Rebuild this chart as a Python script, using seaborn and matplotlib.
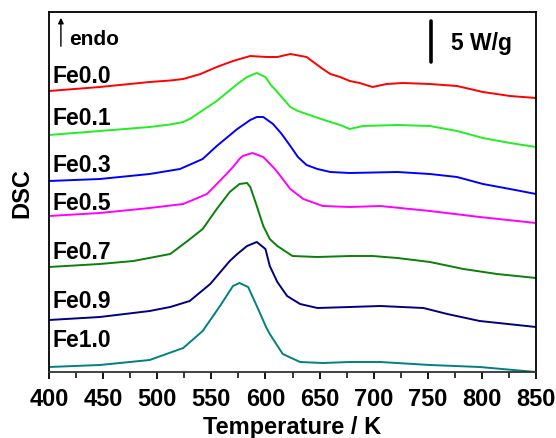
import matplotlib
matplotlib.use("Agg")
import matplotlib.pyplot as plt
import seaborn as sns
from matplotlib.ticker import MultipleLocator

sns.set_theme(style="ticks")
plt.rcParams['font.family'] = ['Liberation Sans', 'DejaVu Sans']
plt.rcParams['font.weight'] = 'bold'
plt.rcParams['text.color'] = 'black'
plt.rcParams['axes.labelcolor'] = 'black'
plt.rcParams['xtick.color'] = 'black'
plt.rcParams['ytick.color'] = 'black'

# ---- data (temperature in K, DSC signal in arbitrary offset units) ----
samples = ["Fe0.0", "Fe0.1", "Fe0.3", "Fe0.5", "Fe0.7", "Fe0.9", "Fe1.0"]
colors = ["#ff0000", "#22ee22", "#0000ff", "#ff00ff", "#0a800a", "#000080", "#008080"]
label_y = [290, 248, 201, 163, 114, 65, 26]

T_fe00 = [400, 447, 493, 512, 524, 540, 555, 570, 586, 601, 611, 623, 638, 653, 660, 669, 678, 687, 699, 712, 727, 752, 777, 801, 826, 850]
Y_fe00 = [281, 285, 290, 291.5, 293, 298, 305, 311, 316, 315, 315, 318, 315, 303, 298, 295, 291, 289, 285, 288, 289, 288, 286, 280, 276, 274]

T_fe01 = [400, 447, 493, 512, 524, 530, 555, 574, 583, 592, 600, 605, 611, 623, 630, 638, 657, 669, 678, 690, 722, 752, 777, 801, 826, 850]
Y_fe01 = [237, 241, 245, 247.5, 250, 253, 271, 288, 295, 299, 295, 287, 280, 265, 261, 258, 251, 247, 243, 246, 247, 246, 241, 234, 229, 225]

T_fe03 = [400, 447, 493, 521, 542, 555, 574, 586, 592, 598, 607, 615, 623, 630, 638, 648, 660, 678, 722, 752, 777, 801, 826, 850]
Y_fe03 = [191, 193, 198, 203, 213, 226, 243, 252, 255, 255, 248, 238, 226, 215, 207, 203, 200, 199, 200, 198, 195, 188, 183, 178]

T_fe05 = [400, 447, 493, 524, 546, 564, 570, 576, 579, 588, 598, 607, 611, 623, 635, 653, 678, 706, 752, 798, 850]
Y_fe05 = [156, 159, 164, 168, 178, 198, 205, 213, 216, 219, 215, 205, 200, 183, 173, 166, 165, 166, 161, 155, 149]

T_fe07 = [400, 447, 478, 512, 528, 542, 555, 567, 576, 583, 586, 592, 598, 604, 611, 625, 648, 678, 699, 722, 752, 783, 814, 850]
Y_fe07 = [105, 108, 111, 118, 131, 143, 163, 180, 188, 189, 185, 166, 146, 133, 126, 116, 115, 116, 116, 114, 110, 103, 98, 94]

T_fe09 = [400, 447, 493, 512, 530, 549, 567, 574, 583, 592, 600, 604, 611, 620, 632, 648, 678, 706, 746, 768, 798, 850]
Y_fe09 = [52, 55, 61, 65, 71, 88, 111, 118, 126, 130, 123, 106, 90, 76, 68, 64, 65, 66, 64, 58, 51, 45]

T_fe10 = [400, 447, 493, 524, 542, 558, 570, 576, 584, 592, 601, 604, 616, 632, 653, 678, 706, 752, 798, 850]
Y_fe10 = [5, 7, 12, 24, 41, 66, 86, 89, 85, 66, 44, 38, 18, 10, 9, 10, 10, 7, 5, 0]

temps = [T_fe00, T_fe01, T_fe03, T_fe05, T_fe07, T_fe09, T_fe10]
signals = [Y_fe00, Y_fe01, Y_fe03, Y_fe05, Y_fe07, Y_fe09, Y_fe10]

xticks = [400, 450, 500, 550, 600, 650, 700, 750, 800, 850]

# ---- figure ----
fig = plt.figure(figsize=(5.56, 4.39), dpi=100)
ax = fig.add_axes([49 / 556, 1 - 373 / 439, 487 / 556, 360 / 439])

for name, T, Y, c, ly in zip(samples, temps, signals, colors, label_y):
    sns.lineplot(x=T, y=Y, color=c, lw=1.4, ax=ax, sort=False, estimator=None)
    ax.text(403, ly, name, fontsize=16.5, fontweight='bold', color='black',
            ha='left', va='baseline')

ax.set_xlim(400, 850)
ax.set_ylim(0, 360)
ax.set_xticks(xticks)
ax.xaxis.set_minor_locator(MultipleLocator(25))
ax.set_yticks([])
ax.tick_params(axis='x', which='major', direction='out', length=5, width=1.3,
               labelsize=17, pad=6, top=False, colors='black')
ax.tick_params(axis='x', which='minor', direction='out', length=4, width=1.1, top=False)
for lab in ax.get_xticklabels():
    lab.set_fontweight('bold')
for s in ax.spines.values():
    s.set_visible(True)
    s.set_color('black')
    s.set_linewidth(1.3)
ax.spines['bottom'].set_color('#333333')

ax.set_xlabel('Temperature / K', fontsize=17, fontweight='bold', color='black')
ax.xaxis.set_label_coords(0.5, -0.12)
ax.set_ylabel('DSC', fontsize=17, fontweight='bold', color='black')
ax.yaxis.set_label_coords(-0.033, 0.5)

# endo arrow
ax.annotate('', xy=(411, 357), xytext=(411, 323),
            arrowprops=dict(arrowstyle='-|>', lw=1.0, color='black', mutation_scale=8))
ax.text(418.5, 328, 'endo', fontsize=15, fontweight='bold', color='black',
        ha='left', va='baseline')

# 5 W/g scale bar
ax.plot([753, 753], [310, 351], color='black', lw=2.6, solid_capstyle='round')
ax.text(771, 323, '5 W/g', fontsize=16.5, fontweight='bold', color='black',
        ha='left', va='baseline')

fig.savefig('out.png', dpi=100)
